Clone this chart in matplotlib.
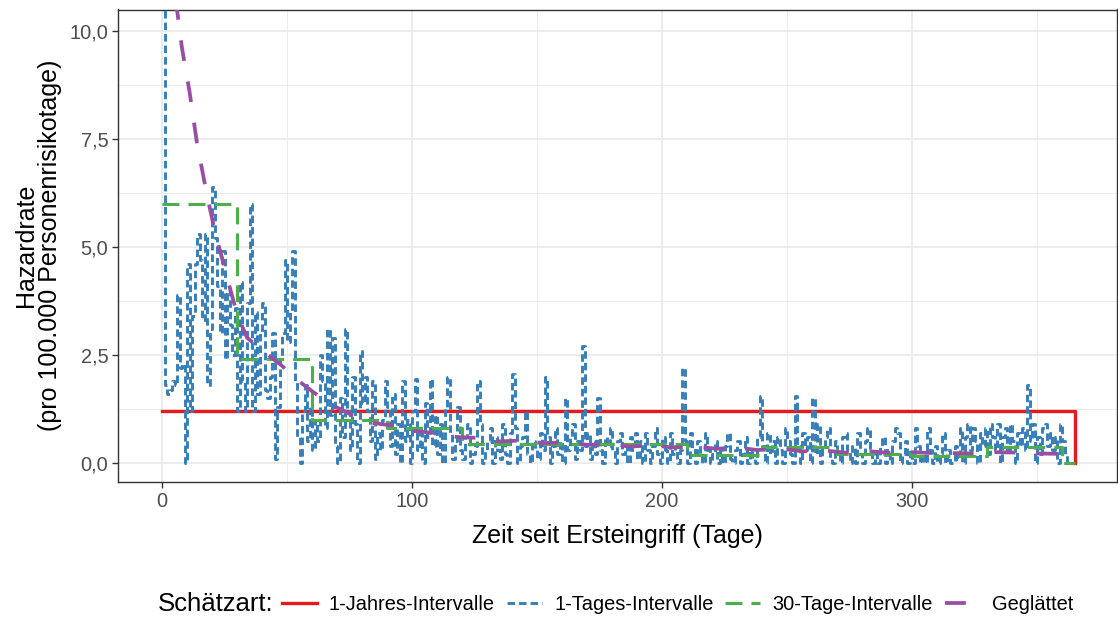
import matplotlib
matplotlib.use("Agg")
import matplotlib.pyplot as plt
from matplotlib.lines import Line2D
import numpy as np

plt.rcParams['font.family'] = ['Liberation Sans', 'DejaVu Sans']
plt.rcParams['lines.scale_dashes'] = False

# ---- data ----
# 1-day interval hazard (value for day i .. i+1), days 0..364
daily_hazard = [
    12.0, 1.8, 1.6, 1.7, 1.9, 1.8, 3.9, 2.2, 2.3, 0.0,
    4.6, 1.2, 3.4, 4.6, 5.3, 4.7, 3.3, 5.3, 1.8, 3.1,
    6.4, 5.2, 4.1, 3.0, 4.9, 2.4, 4.0, 3.2, 2.5, 3.6,
    1.2, 4.2, 1.9, 1.2, 3.7, 6.0, 1.2, 3.5, 1.6, 3.0,
    3.7, 1.7, 1.5, 2.0, 3.0, 0.1, 1.3, 2.4, 3.0, 4.7,
    2.8, 3.5, 4.9, 1.9, 0.6, 0.0, 1.2, 1.8, 0.5, 1.3,
    0.3, 1.0, 0.5, 2.5, 1.9, 0.8, 3.1, 1.1, 2.9, 0.4,
    0.0, 1.5, 0.6, 3.1, 1.2, 0.3, 2.0, 0.9, 0.0, 2.6,
    1.4, 2.0, 1.2, 0.5, 1.9, 0.1, 0.7, 0.3, 1.0, 1.9,
    1.3, 0.4, 1.6, 0.2, 0.9, 0.0, 1.9, 0.5, 1.0, 0.0,
    1.2, 1.95, 0.3, 0.8, 0.0, 1.4, 0.6, 1.95, 0.4, 1.1,
    0.2, 0.9, 0.0, 1.3, 2.0, 0.7, 0.1, 0.5, 1.3, 0.3,
    0.1, 0.6, 0.9, 0.0, 0.2, 0.4, 1.9, 0.9, 0.0, 0.3,
    0.5, 0.8, 0.0, 0.6, 0.3, 0.1, 0.9, 0.2, 0.0, 0.7,
    2.05, 0.8, 0.0, 0.4, 0.6, 1.2, 0.2, 0.0, 0.5, 0.3,
    0.1, 0.7, 0.3, 2.0, 0.6, 0.0, 0.4, 0.8, 0.2, 0.5,
    0.0, 1.5, 0.3, 0.6, 0.9, 0.1, 0.5, 0.3, 2.7, 0.4,
    0.7, 0.1, 0.5, 0.2, 1.5, 0.3, 0.0, 0.6, 0.4, 0.8,
    0.3, 0.0, 0.5, 0.7, 0.2, 0.4, 0.0, 0.6, 0.3, 0.7,
    0.1, 0.5, 0.0, 0.7, 0.3, 0.0, 0.4, 0.8, 0.2, 0.0,
    0.6, 0.3, 0.0, 0.7, 0.2, 0.4, 0.0, 0.3, 2.2, 0.5,
    0.0, 0.7, 0.3, 0.0, 0.5, 0.2, 0.0, 0.7, 0.3, 0.0,
    0.2, 0.5, 0.0, 0.3, 0.0, 0.4, 0.7, 0.1, 0.0, 0.3,
    0.5, 0.0, 0.2, 0.6, 0.0, 0.3, 0.1, 0.0, 0.6, 1.55,
    0.4, 0.0, 0.7, 0.2, 0.5, 0.0, 0.6, 0.3, 0.0, 0.8,
    0.5, 0.2, 0.0, 1.55, 0.4, 0.0, 0.7, 0.3, 0.6, 0.0,
    1.5, 0.2, 0.9, 0.0, 0.4, 0.6, 0.8, 0.1, 0.0, 0.5,
    0.2, 0.0, 0.6, 0.7, 0.3, 0.0, 0.4, 0.0, 0.7, 0.2,
    0.0, 0.5, 0.8, 0.3, 0.0, 0.2, 0.0, 0.4, 0.6, 0.0,
    0.3, 0.0, 0.5, 0.8, 0.7, 0.0, 0.2, 0.5, 0.0, 0.3,
    0.0, 0.8, 0.4, 0.0, 0.2, 0.0, 0.8, 0.3, 0.0, 0.4,
    0.0, 0.2, 0.7, 0.0, 0.3, 0.0, 0.0, 0.4, 0.1, 0.8,
    0.0, 0.6, 0.9, 0.3, 0.8, 0.5, 0.0, 0.7, 0.4, 0.8,
    0.2, 0.9, 0.6, 0.3, 0.9, 0.0, 0.6, 0.8, 0.3, 0.9,
    0.5, 0.0, 0.7, 0.4, 0.8, 0.3, 1.8, 0.5, 0.9, 0.0,
    0.6, 0.2, 0.8, 0.9, 0.4, 0.7, 0.3, 0.6, 0.0, 0.9,
    0.5, 0.2, 0.0, 0.0, 0.0,
]
daily_days = list(range(len(daily_hazard)))

# 30-day interval hazard
month_days = [0, 30, 60, 90, 120, 150, 180, 210, 240, 270, 300, 330, 360, 365]
month_hazard = [6.0, 2.4, 1.0, 0.8, 0.45, 0.45, 0.45, 0.18, 0.37, 0.2, 0.16, 0.37, 0.0, 0.0]

# 1-year interval hazard
year_days = [0, 365]
year_hazard = [1.2, 0.0]

# smoothed hazard
smooth_days = [0, 3, 6, 8, 11, 14, 18, 21, 26, 30, 34, 41, 48, 53, 61, 68, 76, 84,
               93, 101, 110, 118, 127, 135, 144, 152, 162, 170, 179, 187, 196, 204,
               213, 222, 230, 238, 248, 256, 265, 273, 283, 290, 300, 308, 317, 325,
               334, 342, 351, 360]
smooth_hazard = [14.0, 12.1, 10.5, 9.6, 8.6, 7.4, 6.2, 5.4, 4.3, 3.45, 2.9, 2.57,
                 2.25, 1.97, 1.62, 1.34, 1.11, 0.93, 0.86, 0.74, 0.69, 0.6, 0.58,
                 0.5, 0.52, 0.46, 0.48, 0.42, 0.44, 0.38, 0.41, 0.36, 0.38, 0.33,
                 0.36, 0.3, 0.33, 0.27, 0.29, 0.24, 0.27, 0.24, 0.25, 0.23, 0.23,
                 0.22, 0.25, 0.24, 0.22, 0.21]

series_labels = ["1-Jahres-Intervalle", "1-Tages-Intervalle", "30-Tage-Intervalle", "Geglättet"]
series_colors = ["#E41A1C", "#377EB8", "#4DAF4A", "#984EA3"]

x_ticks = [0, 100, 200, 300]
y_ticks = [0, 2.5, 5.0, 7.5, 10.0]
y_ticklabels = ["0,0", "2,5", "5,0", "7,5", "10,0"]

# ---- figure ----
W, H = 1118, 617
fig = plt.figure(figsize=(W / 100, H / 100), dpi=100)
ax = fig.add_axes([118 / W, 1 - 482 / H, (1117 - 118) / W, (482 - 9.5) / H])

widths = [2.4, 2.1, 2.2, 2.7]
styles = [
    dict(linestyle="-"),
    dict(linestyle=(0, (5.4, 2.9))),
    dict(linestyle=(0, (12.2, 6.5))),
    dict(linestyle=(0, (15.0, 15.0))),
]

ax.step(year_days, year_hazard, where="post", color=series_colors[0], lw=widths[0], **styles[0], zorder=3)
ax.step(daily_days, daily_hazard, where="post", color=series_colors[1], lw=widths[1], **styles[1], zorder=4)
ax.step(month_days, month_hazard, where="post", color=series_colors[2], lw=widths[2], **styles[2], zorder=5)
ax.plot(smooth_days, smooth_hazard, color=series_colors[3], lw=widths[3], **styles[3], zorder=6)

ax.set_xlim(-17.6, 381.9)
ax.set_ylim(-0.44, 10.5)
ax.set_xticks(x_ticks)
ax.set_xticklabels([str(v) for v in x_ticks])
ax.set_yticks(y_ticks)
ax.set_yticklabels(y_ticklabels)
ax.set_xticks([50, 150, 250, 350], minor=True)
ax.set_yticks([1.25, 3.75, 6.25, 8.75], minor=True)

ax.grid(which="major", color="#EBEBEB", lw=1.3, zorder=0)
ax.grid(which="minor", color="#EBEBEB", lw=0.65, zorder=0)
ax.set_axisbelow(True)
for s in ax.spines.values():
    s.set_color("#333333")
    s.set_linewidth(1.0)
ax.tick_params(which="major", length=4, width=1.0, color="#333333",
               labelsize=14.4, labelcolor="#4D4D4D", pad=3)
ax.tick_params(which="minor", length=0)

ax.set_xlabel("Zeit seit Ersteingriff (Tage)", fontsize=18, color="black", labelpad=9.5)
ax.set_ylabel("Hazardrate\n(pro 100.000 Personenrisikotage)", fontsize=18,
              color="black", labelpad=5, linespacing=1.05)

# legend at bottom
handles = [Line2D([0], [0], color=c, lw=w, **st) for c, w, st in zip(series_colors, widths, styles)]
fig.text(158 / W, 1 - 604 / H, "Schätzart:", fontsize=18.5, va="center", ha="left")
leg = fig.legend(handles, series_labels, loc="center left", ncol=4,
                 bbox_to_anchor=(282 / W, 1 - 604 / H), frameon=False,
                 fontsize=14.4, handlelength=1.75, handletextpad=0.6,
                 columnspacing=0.6, borderaxespad=0, borderpad=0)

fig.savefig("out.png", dpi=100)
